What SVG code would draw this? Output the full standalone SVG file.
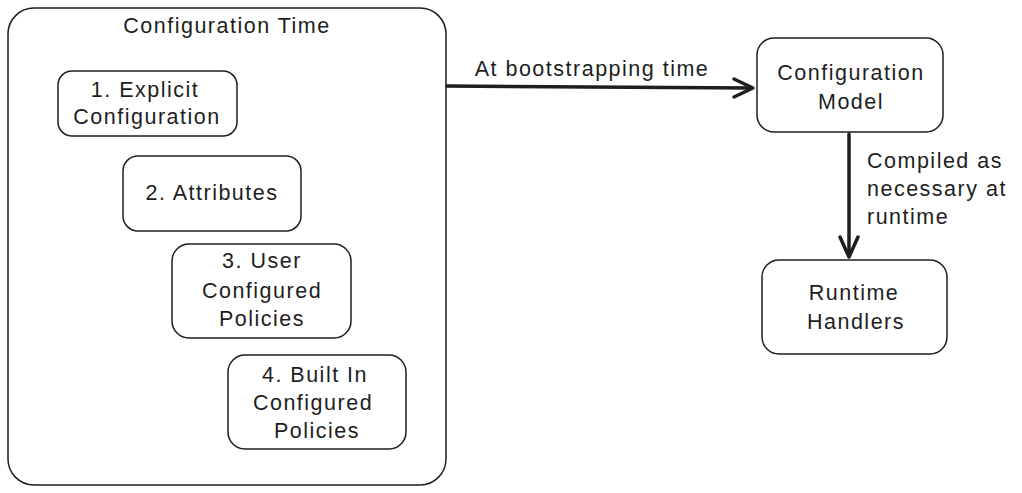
<svg xmlns="http://www.w3.org/2000/svg" width="1022" height="493" viewBox="0 0 1022 493">
<style>
.box{fill:#ffffff;stroke:#1e1e1e;stroke-width:1.5}
.t{font-family:"Liberation Sans",Arial,sans-serif;font-size:21.5px;letter-spacing:1.5px;fill:#1e1e1e;text-anchor:middle;dominant-baseline:central}
.l{text-anchor:start}
.conn{fill:none;stroke:#1e1e1e;stroke-width:3.5;stroke-linecap:round;stroke-linejoin:round}
</style>
<rect width="1022" height="493" fill="#ffffff"/>
<g id="configuration-time">
<rect class="box" x="8" y="8" width="438" height="477" rx="26"/>
<text class="t" x="227" y="26">Configuration Time</text>
</g>
<g id="explicit-configuration">
<rect class="box" x="58" y="71" width="179" height="65" rx="14"/>
<text class="t" x="145" y="90">1. Explicit</text>
<text class="t" x="147" y="117">Configuration</text>
</g>
<g id="attributes">
<rect class="box" x="123" y="156" width="178" height="75" rx="15"/>
<text class="t" x="212" y="193">2. Attributes</text>
</g>
<g id="user-configured-policies">
<rect class="box" x="172" y="244" width="179" height="94" rx="17"/>
<text class="t" x="262" y="261">3. User</text>
<text class="t" x="262" y="291">Configured</text>
<text class="t" x="262" y="319">Policies</text>
</g>
<g id="built-in-configured-policies">
<rect class="box" x="228" y="355" width="178" height="94" rx="17"/>
<text class="t" x="315" y="375">4. Built In</text>
<text class="t" x="313" y="403">Configured</text>
<text class="t" x="317" y="431">Policies</text>
</g>
<g id="configuration-model">
<rect class="box" x="757" y="38" width="186" height="94" rx="17"/>
<text class="t" x="851" y="73">Configuration</text>
<text class="t" x="851" y="102">Model</text>
</g>
<g id="runtime-handlers">
<rect class="box" x="762" y="260" width="185" height="94" rx="17"/>
<text class="t" x="854" y="293">Runtime</text>
<text class="t" x="856" y="322">Handlers</text>
</g>
<g id="connectors">
<path class="conn" d="M447 86 L752 88"/>
<path class="conn" d="M734 79 L753 88 L734 97"/>
<path class="conn" d="M849 134 L849 256"/>
<path class="conn" d="M840 237 L849 257 L858 237"/>
<text class="t" x="592" y="69">At bootstrapping time</text>
<text class="t l" x="867" y="161">Compiled as</text>
<text class="t l" x="867" y="189">necessary at</text>
<text class="t l" x="867" y="217">runtime</text>
</g>
</svg>
